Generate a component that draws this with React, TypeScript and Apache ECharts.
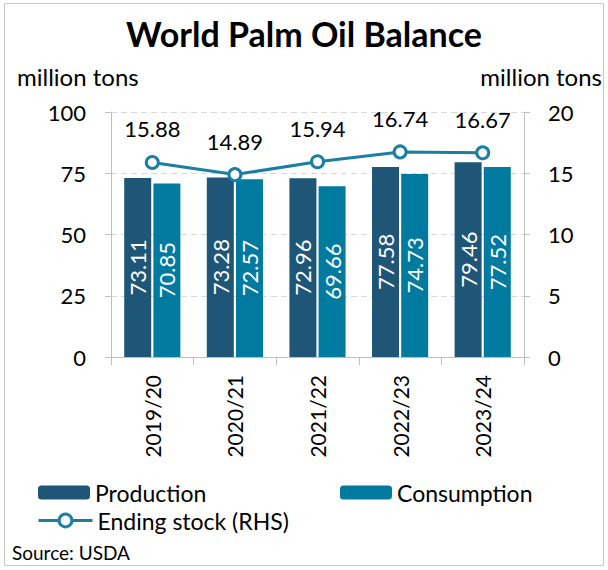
import React, { useEffect, useRef } from "react";
import * as echarts from "echarts";

const categories = ["2019/20", "2020/21", "2021/22", "2022/23", "2023/24"];
const production = [73.11, 73.28, 72.96, 77.58, 79.46];
const consumption = [70.85, 72.57, 69.66, 74.73, 77.52];
const endingStock = [15.88, 14.89, 15.94, 16.74, 16.67];

const FONT = "Lato, 'Open Sans', sans-serif";

export default function App() {
  const ref = useRef<HTMLDivElement>(null);
  useEffect(() => {
    if (!ref.current) return;
    const chart = echarts.init(ref.current, null, { renderer: "svg" });
    const legendText = { fontFamily: FONT, fontSize: 23, color: "#000" };
    chart.setOption({
      animation: false,
      backgroundColor: "#fff",
      textStyle: { fontFamily: FONT, color: "#000" },
      title: {
        text: "World Palm Oil Balance",
        left: "center",
        top: 11,
        textStyle: { fontFamily: FONT, fontSize: 34, fontWeight: "bold", color: "#000" },
      },
      graphic: [
        {
          type: "rect",
          shape: { x: 4.5, y: 3.5, width: 599, height: 562 },
          style: { fill: "none", stroke: "#c8c8c8", lineWidth: 1 },
          silent: true,
        },
        {
          type: "text",
          left: 12,
          top: 543,
          style: { text: "Source: USDA", font: `19px ${FONT}`, fill: "#000" },
        },
        {
          type: "text",
          left: 17,
          top: 64,
          style: { text: "million tons", font: `24px ${FONT}`, fill: "#000" },
        },
        {
          type: "text",
          right: 6,
          top: 64,
          style: { text: "million tons", font: `24px ${FONT}`, fill: "#000" },
        },
      ],
      legend: [
        {
          data: ["Production"],
          left: 38,
          top: 481,
          padding: 0,
          itemWidth: 52,
          itemHeight: 14,
          textStyle: legendText,
        },
        {
          data: ["Consumption"],
          left: 340,
          top: 481,
          padding: 0,
          itemWidth: 52,
          itemHeight: 14,
          textStyle: legendText,
        },
        {
          data: ["Ending stock (RHS)"],
          left: 37,
          top: 509,
          padding: 0,
          itemWidth: 54,
          itemHeight: 16,
          lineStyle: { width: 3, color: "#1a7fa0" },
          itemStyle: { color: "#fff", borderColor: "#1a7fa0", borderWidth: 3 },
          textStyle: legendText,
        },
      ],
      grid: { left: 111, right: 84, top: 112, bottom: 213, containLabel: false },
      xAxis: {
        type: "category",
        data: categories,
        axisLine: { lineStyle: { color: "#bfbfbf", width: 1 } },
        axisTick: { show: true, length: 8, lineStyle: { color: "#bfbfbf" } },
        axisLabel: {
          rotate: 90,
          fontSize: 21,
          color: "#000",
          fontFamily: FONT,
          margin: 18,
        },
      },
      yAxis: [
        {
          type: "value",
          min: 0,
          max: 100,
          interval: 25,
          axisLine: { show: true, lineStyle: { color: "#bfbfbf" } },
          axisTick: { show: true, length: 6, lineStyle: { color: "#bfbfbf" } },
          axisLabel: { fontSize: 22, color: "#000", fontFamily: FONT, margin: 25 },
          splitLine: { lineStyle: { color: "#d9d9d9", type: [6, 4] } },
        },
        {
          type: "value",
          min: 0,
          max: 20,
          interval: 5,
          position: "right",
          axisLine: { show: true, lineStyle: { color: "#bfbfbf" } },
          axisTick: { show: true, length: 6, lineStyle: { color: "#bfbfbf" } },
          axisLabel: { fontSize: 22, color: "#000", fontFamily: FONT, margin: 24 },
          splitLine: { show: false },
        },
      ],
      series: [
        {
          name: "Production",
          type: "bar",
          data: production,
          barWidth: 27,
          barGap: "8%",
          itemStyle: { color: "#1f5677" },
          label: {
            show: true,
            position: "inside",
            rotate: 90,
            color: "#fff",
            fontSize: 22,
            fontFamily: FONT,
            formatter: (p: any) => p.value.toFixed(2),
          },
        },
        {
          name: "Consumption",
          type: "bar",
          data: consumption,
          barWidth: 27,
          itemStyle: { color: "#007a9e" },
          label: {
            show: true,
            position: "inside",
            rotate: 90,
            color: "#fff",
            fontSize: 22,
            fontFamily: FONT,
            formatter: (p: any) => p.value.toFixed(2),
          },
        },
        {
          name: "Ending stock (RHS)",
          type: "line",
          yAxisIndex: 1,
          data: endingStock,
          symbol: "circle",
          symbolSize: 12,
          lineStyle: { color: "#1a7fa0", width: 3 },
          itemStyle: { color: "#fff", borderColor: "#1a7fa0", borderWidth: 3 },
          label: {
            show: true,
            position: "top",
            distance: 15,
            color: "#000",
            fontSize: 22,
            fontFamily: FONT,
            formatter: (p: any) => p.value.toFixed(2),
          },
        },
      ],
    });
    return () => chart.dispose();
  }, []);
  return (
    <div
      ref={ref}
      style={{ position: "fixed", left: 0, top: 0, width: 608, height: 570 }}
    />
  );
}
